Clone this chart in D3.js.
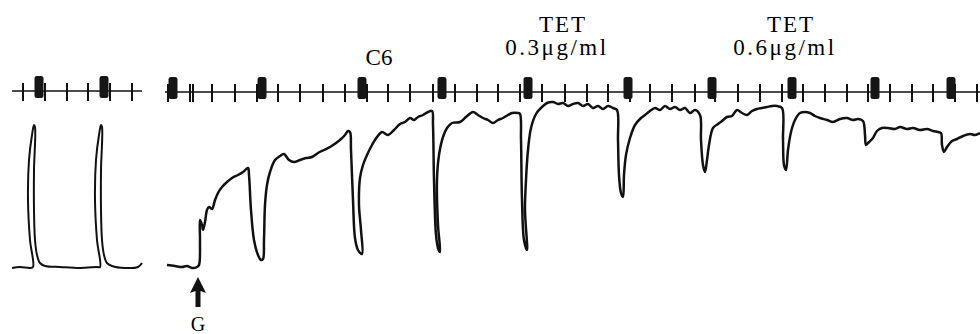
<!DOCTYPE html>
<html>
<head>
<meta charset="utf-8">
<script src="https://cdn.jsdelivr.net/npm/d3@7"></script>
<style>
  html, body { margin: 0; padding: 0; background: #fff; }
  svg { display: block; }
</style>
</head>
<body>
<svg id="chart"></svg>
<script>
// time in s (arbitrary chart units), tension in pen deflection units

// control panel: two twitches before ganglion stimulation
const leftTimeTicks = [11, 33, 55, 76, 98, 120];
const leftSignalMarks = [27, 92];
const leftTrace = [
    [0, 0], [8, 1], [18, 0], [21, 1], [18, 28], [16, 68], [17, 108], [20, 133],
    [22, 143], [23, 141], [22, 98], [22, 58], [23, 28], [25, 13], [28, 5], [33, 2],
    [48, 1], [68, 0], [85, 1], [88, 1], [85, 28], [83, 68], [84, 108], [87, 133],
    [89, 143], [90, 141], [89, 98], [89, 58], [90, 28], [92, 13], [95, 5], [100, 2],
    [113, 0], [126, 1], [130, 5]
];

// main panel
const mainTimeTicks = [3, 25, 28, 47, 70, 92, 113, 135, 158, 180, 202, 223, 245, 268, 290,
    312, 333, 355, 377, 400, 422, 443, 465, 485, 507, 530, 550, 573, 595, 617, 638, 660,
    682, 703, 725, 747, 768, 790, 812];
const mainSignalMarks = [8, 97, 197, 277, 363, 463, 547, 627, 710, 786];
const mainTrace = [
    [2, 3], [10, 2], [17, 1], [22, 2], [27, 0], [32, 1], [34, 3], [35, 28], [35, 48],
    [37, 43], [38, 38], [40, 46], [42, 58], [44, 61], [47, 59], [50, 68], [53, 75],
    [57, 81], [62, 86], [67, 90], [73, 93], [78, 96], [83, 100],
    [84, 93], [86, 58], [89, 28], [93, 13], [96, 8], [98, 9], [99, 28], [100, 63],
    [102, 83], [105, 96], [110, 108], [115, 112], [119, 114], [124, 108], [129, 106],
    [135, 108], [141, 110], [147, 111], [153, 115], [159, 118], [165, 121], [171, 125],
    [176, 129], [180, 133], [183, 137], [185, 136],
    [186, 118], [188, 68], [190, 30], [193, 18], [197, 14], [196, 38], [194, 63],
    [195, 90], [198, 103], [202, 113], [207, 123], [212, 131], [217, 136], [223, 133],
    [229, 138], [235, 144], [240, 146], [245, 150], [249, 148], [253, 151], [258, 153],
    [263, 156], [267, 157],
    [268, 143], [269, 88], [271, 33], [273, 20], [275, 16], [273, 43], [272, 88],
    [274, 113], [278, 131], [282, 140], [287, 145], [295, 146], [301, 151], [308, 156],
    [313, 153], [318, 150], [323, 148], [328, 145], [333, 148], [338, 150], [343, 153],
    [347, 155], [353, 155], [355, 154],
    [356, 128], [357, 68], [359, 28], [362, 18], [360, 58], [361, 88], [363, 118],
    [366, 140], [371, 154], [376, 160], [382, 165], [388, 166], [393, 164], [398, 165],
    [403, 162], [408, 164], [413, 165], [418, 162], [423, 164], [428, 160], [433, 162],
    [438, 159], [443, 162], [448, 160], [452, 158],
    [453, 128], [454, 93], [456, 75], [458, 71], [459, 93], [461, 113], [465, 130],
    [470, 143], [475, 149], [480, 153], [485, 157], [490, 160], [495, 158], [500, 162],
    [505, 159], [510, 161], [515, 158], [520, 160], [525, 155], [530, 158], [535, 153],
    [536, 128], [538, 103], [540, 96], [542, 108], [544, 123], [548, 140], [553, 144],
    [557, 147], [562, 151], [567, 152], [572, 158], [577, 155], [582, 153], [587, 157],
    [592, 159], [597, 160], [602, 161], [607, 162], [612, 162], [617, 160],
    [618, 128], [619, 103], [621, 98], [623, 118], [626, 136], [630, 148], [635, 155],
    [640, 156], [645, 155], [650, 152], [655, 150], [662, 148], [668, 146], [675, 149],
    [682, 150], [688, 148], [693, 149], [698, 147],
    [700, 133], [701, 123], [704, 126], [708, 130], [712, 137], [717, 140], [723, 140],
    [730, 139], [735, 141], [742, 139], [748, 140], [755, 138], [762, 139], [768, 137],
    [773, 136], [776, 135],
    [777, 123], [779, 116], [782, 121], [787, 127], [792, 129], [798, 132], [805, 134],
    [810, 133], [815, 135]
];

const drugNames = ['C6', 'TET', 'TET'];
const drugDoses = ['', '0.3\u03bcg/ml', '0.6\u03bcg/ml'];
const drugTimes = [214, 392, 620];
const stimName = 'G';
const stimTime = 33;

const width = 980, height = 334;
const timerY = 92;
const tickUp = 8, tickDown = 10;

const svg = d3.select('#chart')
    .attr('width', width)
    .attr('height', height)
    .style('background', '#fff');

const xLeft = d3.scaleLinear().domain([0, 130]).range([12, 142]);
const xMain = d3.scaleLinear().domain([0, 815]).range([165, 980]);
const y = d3.scaleLinear().domain([0, 160]).range([268, 108]);

const line = (xs) => d3.line()
    .x(d => xs(d[0]))
    .y(d => y(d[1]))
    .curve(d3.curveCatmullRom.alpha(0.5));

function timer(g, xs, ticks, marks, dy) {
    let [x0, x1] = xs.range();
    g.append('line')
        .attr('x1', x0).attr('x2', x1)
        .attr('y1', timerY + dy).attr('y2', timerY + dy)
        .attr('stroke', '#111').attr('stroke-width', 1.5);

    g.selectAll('line.tick')
        .data(ticks)
        .enter()
        .append('line')
        .attr('class', 'tick')
        .attr('x1', d => xs(d)).attr('x2', d => xs(d))
        .attr('y1', timerY + dy - tickUp).attr('y2', timerY + dy + tickDown)
        .attr('stroke', '#111').attr('stroke-width', 2);

    g.selectAll('rect.mark')
        .data(marks)
        .enter()
        .append('rect')
        .attr('class', 'mark')
        .attr('x', d => xs(d) - 4.5)
        .attr('y', timerY + dy - 15)
        .attr('width', 9)
        .attr('height', 22)
        .attr('rx', 2.5)
        .attr('fill', '#161616');
}

let left = svg.append('g');
timer(left, xLeft, leftTimeTicks, leftSignalMarks, -1);
left.append('path')
    .datum(leftTrace)
    .attr('d', line(xLeft))
    .attr('fill', 'none')
    .attr('stroke', '#111')
    .attr('stroke-width', 2)
    .attr('stroke-linejoin', 'round');

let main = svg.append('g');
timer(main, xMain, mainTimeTicks, mainSignalMarks, 0);
main.append('path')
    .datum(mainTrace)
    .attr('d', line(xMain))
    .attr('fill', 'none')
    .attr('stroke', '#111')
    .attr('stroke-width', 2.5)
    .attr('stroke-linejoin', 'round');

// drug labels
let labels = svg.append('g')
    .style('font-family', '"Liberation Serif", "Times New Roman", serif')
    .style('font-size', '23px')
    .attr('fill', '#000')
    .attr('text-anchor', 'middle');

drugNames.forEach((name, i) => {
    let x = xMain(drugTimes[i]);
    if (drugDoses[i]) {
        labels.append('text').attr('x', x + 6).attr('y', 32)
            .style('letter-spacing', '2px').text(name);
        labels.append('text').attr('x', x).attr('y', 55)
            .style('letter-spacing', '2.5px').text(drugDoses[i]);
    } else {
        labels.append('text').attr('x', x).attr('y', 65).text(name);
    }
});

// stimulation arrow
let gx = xMain(stimTime);
svg.append('path')
    .attr('d', `M${gx},277 L${gx + 8},293 L${gx + 2.5},291 L${gx + 2.5},307 L${gx - 2.5},307 L${gx - 2.5},291 L${gx - 8},293 Z`)
    .attr('fill', '#111');
svg.append('text')
    .attr('x', gx).attr('y', 331)
    .attr('text-anchor', 'middle')
    .style('font-family', '"Liberation Serif", "Times New Roman", serif')
    .style('font-size', '20px')
    .attr('fill', '#000')
    .text(stimName);
</script>
</body>
</html>
